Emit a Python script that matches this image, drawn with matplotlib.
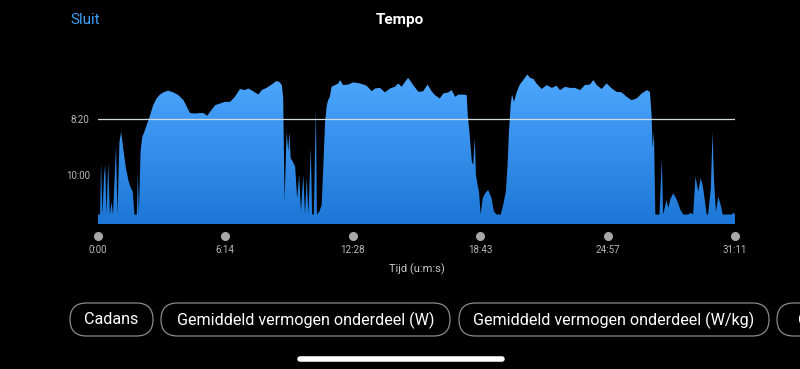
import numpy as np
import matplotlib.pyplot as plt
from matplotlib.patches import Polygon, FancyBboxPatch

# tijd (s) en tempo (s per km)
tijd = [0, 6, 9, 13, 18, 21, 25, 30, 35, 40, 44, 53, 57, 63, 68, 74, 82, 89, 96, 102,
        107, 114, 117, 120, 125, 130, 136, 143, 153, 162, 172, 182, 192, 206, 221, 236,
        251, 261, 270, 285, 300, 309, 321, 329, 344, 358, 373, 388, 402, 417, 432, 441,
        456, 471, 481, 495, 510, 523, 532, 540, 544, 548, 554, 559, 562, 566, 572, 579,
        585, 591, 596, 603, 608, 613, 618, 625, 629, 634, 640, 643, 650, 657, 662, 667,
        672, 676, 681, 686, 696, 706, 711, 720, 735, 750, 769, 789, 804, 814, 828, 843,
        858, 872, 882, 892, 902, 911, 926, 941, 955, 968, 980, 990, 1004, 1014, 1029,
        1039, 1049, 1058, 1073, 1083, 1086, 1091, 1098, 1102, 1107, 1110, 1115, 1119,
        1124, 1130, 1137, 1146, 1156, 1163, 1171, 1183, 1190, 1198, 1203, 1207, 1212,
        1216, 1222, 1230, 1239, 1249, 1261, 1269, 1279, 1288, 1303, 1318, 1333, 1347,
        1357, 1372, 1386, 1401, 1416, 1430, 1445, 1455, 1465, 1479, 1494, 1509, 1523,
        1538, 1553, 1567, 1582, 1597, 1612, 1621, 1626, 1629, 1633, 1637, 1649, 1656,
        1660, 1670, 1675, 1682, 1690, 1698, 1704, 1711, 1719, 1734, 1741, 1748, 1755,
        1763, 1770, 1776, 1783, 1788, 1792, 1800, 1805, 1809, 1815, 1822, 1829, 1835,
        1861, 1866, 1871]
tempo = [671, 671, 579, 671, 600, 582, 671, 579, 671, 648, 671, 549, 671, 541, 523, 552,
         588, 609, 623, 630, 671, 671, 594, 671, 558, 532, 523, 511, 493, 475, 463, 456,
         452, 449, 452, 457, 466, 478, 489, 490, 489, 489, 494, 487, 475, 472, 469, 469,
         460, 446, 448, 445, 450, 456, 448, 444, 438, 432, 433, 439, 463, 648, 523, 558,
         523, 570, 576, 585, 642, 600, 666, 600, 671, 605, 671, 552, 671, 671, 481, 671,
         666, 654, 582, 505, 475, 466, 460, 442, 439, 436, 430, 439, 438, 434, 436, 440,
         450, 445, 444, 452, 445, 442, 436, 442, 433, 426, 439, 451, 450, 438, 450, 457,
         463, 454, 452, 448, 460, 456, 456, 457, 493, 523, 576, 582, 534, 600, 618, 630,
         671, 642, 633, 627, 642, 666, 671, 671, 654, 630, 582, 523, 475, 456, 469, 451,
         438, 430, 420, 426, 428, 436, 446, 439, 444, 440, 448, 442, 444, 444, 448, 439,
         438, 430, 439, 446, 436, 445, 451, 452, 460, 466, 463, 454, 448, 451, 493, 552,
         523, 671, 671, 573, 671, 645, 659, 642, 633, 642, 651, 663, 671, 671, 668, 671,
         603, 630, 606, 618, 648, 671, 671, 624, 523, 606, 666, 639, 654, 671, 671, 668,
         671]

xticks = [0, 374, 748, 1123, 1497, 1871]
xlabels = ['0:00', '6:14', '12:28', '18:43', '24:57', '31:11']
yticks = [500, 600]
ylabels = ['8:20', '10:00']
knoppen = ['Cadans', 'Gemiddeld vermogen onderdeel (W)',
           'Gemiddeld vermogen onderdeel (W/kg)', 'Gemiddeld vermogen onderdeel (W)']
knop_x = [70, 161, 459, 777]
knop_w = [83, 289, 310, 300]

plt.rcParams['font.family'] = ['Roboto', 'DejaVu Sans']

fig = plt.figure(figsize=(8, 3.69), dpi=100)
fig.patch.set_facecolor('black')

# achtergrond-as in pixels voor knoppen en balk
bg = fig.add_axes([0, 0, 1, 1])
bg.set_xlim(0, 800)
bg.set_ylim(369, 0)
bg.axis('off')

ax = fig.add_axes([98 / 800, 145 / 369, 637 / 800, 164 / 369])
ax.set_facecolor('black')

ymin, ymax = 688, 394
ax.set_xlim(0, 1871)
ax.set_ylim(ymin, ymax)

# gradient vulling, geknipt op de tempo-curve
verts = [(0, ymin)] + list(zip(tijd, tempo)) + [(1871, ymin)]
poly = Polygon(verts, closed=True, facecolor='none', edgecolor='none')
ax.add_patch(poly)
grad = np.linspace(0, 1, 256).reshape(-1, 1)
top = np.array([78, 168, 255]) / 255
bot = np.array([28, 118, 214]) / 255
img = top + (bot - top) * grad[:, :, None]
im = ax.imshow(img, extent=[0, 1871, ymin, 420], aspect='auto', origin='upper', zorder=1)
im.set_clip_path(poly)

ax.axhline(500, color='#d0d8e0', lw=0.9, zorder=3)

for s in ax.spines.values():
    s.set_visible(False)
ax.set_yticks(yticks)
ax.set_yticklabels(ylabels, color='#b8b8b8', fontsize=7)
ax.set_xticks(xticks)
ax.set_xticklabels(xlabels, color='#b8b8b8', fontsize=7)
ax.tick_params(axis='both', length=0)
ax.tick_params(axis='y', pad=6)
ax.tick_params(axis='x', pad=15)
ax.set_xlabel('Tijd (u:m:s)', color='#c8c8c8', fontsize=8, labelpad=6)

# grijze bolletjes bij de x-ticks
ax.plot(xticks, [-0.073] * len(xticks), 'o', color='#a8a8a8', ms=5.5,
        transform=ax.get_xaxis_transform(), clip_on=False)

bg.text(70, 20, 'Sluit', color='#3a9ef5', fontsize=11, va='center')
bg.text(400, 20, 'Tempo', color='white', fontsize=11, fontweight='bold',
        ha='center', va='center')

# knoppen onderaan
for naam, x0, w in zip(knoppen, knop_x, knop_w):
    box = FancyBboxPatch((x0, 303), w, 33, boxstyle='round,pad=0,rounding_size=16.5',
                         facecolor='black', edgecolor='#8a8a8a', lw=0.9)
    bg.add_patch(box)
    t = bg.text(x0 + w / 2, 320, naam, color='white', fontsize=11.6,
                ha='center', va='center', clip_on=True)

bg.plot([300, 502], [359, 359], color='white', lw=4, solid_capstyle='round')

fig.savefig('out.png', dpi=100, facecolor='black')
